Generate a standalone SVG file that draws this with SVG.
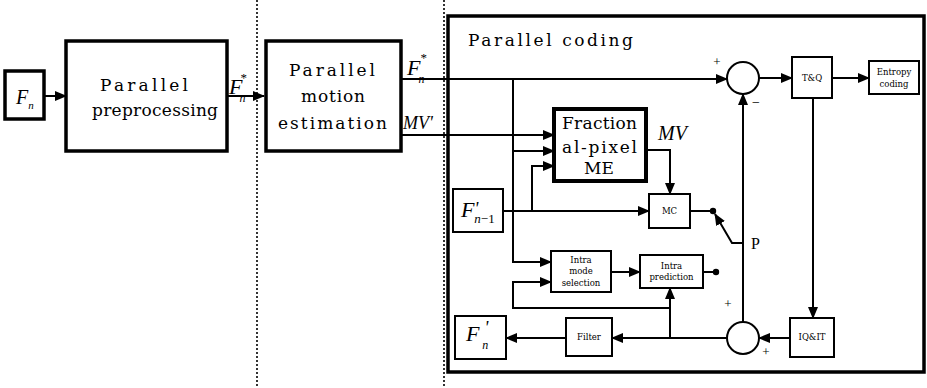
<svg xmlns="http://www.w3.org/2000/svg" width="927" height="388" viewBox="0 0 927 388">
<style>
.big{fill:#fff;stroke:#000;stroke-width:3.5}
.sm{fill:#fff;stroke:#000;stroke-width:2}
.ln{fill:none;stroke:#000;stroke-width:2}
.arr{fill:none;stroke:#000;stroke-width:2;marker-end:url(#ah)}
.dot{fill:none;stroke:#000;stroke-width:1.6;stroke-dasharray:2,2}
.sf{font-family:"DejaVu Serif","Liberation Serif",serif;fill:#000}
.b18{font-size:17px}
.s9{font-size:8.5px}
.it{font-family:"Liberation Serif","Times New Roman",serif;font-style:italic;fill:#000}
.rm{font-family:"Liberation Serif","Times New Roman",serif;fill:#000}
</style>
<defs>
<marker id="ah" markerUnits="userSpaceOnUse" markerWidth="12" markerHeight="10" refX="11" refY="5" orient="auto">
<path d="M0,0 L12,5 L0,10 Z" fill="#000"/>
</marker>
</defs>
<rect width="927" height="388" fill="#fff"/>

<g id="dividers">
<line class="dot" x1="257" y1="0" x2="257" y2="388"/>
<line class="dot" x1="444" y1="0" x2="444" y2="388"/>
</g>

<g id="parallel-coding">
<rect x="448" y="16" width="476" height="356" fill="none" stroke="#000" stroke-width="3.5"/>
<text class="sf b18" x="468" y="46" textLength="165" lengthAdjust="spacing">Parallel coding</text>
</g>

<g id="connectors">
<line class="arr" x1="44" y1="96" x2="66" y2="96"/>
<line class="arr" x1="227" y1="96" x2="264" y2="96"/>
<line class="arr" x1="401" y1="79" x2="727" y2="79"/>
<line class="arr" x1="401" y1="135" x2="554" y2="135"/>
<polyline class="arr" points="513,79 513,151 554,151"/>
<polyline class="arr" points="513,151 513,262 551,262"/>
<polyline class="arr" points="532,211 532,166 554,166"/>
<line class="arr" x1="503" y1="211" x2="649" y2="211"/>
<polyline class="arr" points="646,150 670,150 670,194"/>
<line class="ln" x1="690" y1="211" x2="713" y2="211"/>
<line class="arr" x1="759" y1="78" x2="792" y2="78"/>
<line class="arr" x1="832" y1="78" x2="869" y2="78"/>
<line class="arr" x1="813" y1="98" x2="813" y2="318"/>
<line class="arr" x1="790" y1="338" x2="759" y2="338"/>
<line class="arr" x1="743" y1="322" x2="743" y2="94"/>
<polyline class="arr" points="743,243 732,243 715,214"/>
<line class="arr" x1="727" y1="338" x2="612" y2="338"/>
<line class="arr" x1="566" y1="338" x2="506" y2="338"/>
<line class="arr" x1="670" y1="338" x2="670" y2="288"/>
<polyline class="arr" points="670,308 513,308 513,282 551,282"/>
<line class="arr" x1="611" y1="272" x2="640" y2="272"/>
<line class="ln" x1="703" y1="272" x2="716" y2="272"/>
<circle cx="713" cy="211" r="3.2" fill="#000"/>
<circle cx="716" cy="272" r="3.2" fill="#000"/>
</g>

<g id="fn">
<rect class="big" x="5" y="71" width="39" height="48"/>
<text class="it" x="16" y="104" font-size="20">F<tspan font-size="11" dy="5">n</tspan></text>
</g>

<g id="preprocessing">
<rect class="big" x="66" y="41" width="161" height="110"/>
<text class="sf b18" x="100" y="91" textLength="88" lengthAdjust="spacing">Parallel</text>
<text class="sf b18" x="92" y="116" textLength="126" lengthAdjust="spacing">preprocessing</text>
</g>

<g id="label-fn-star-1">
<text class="it" x="229" y="94" font-size="22">F<tspan font-size="12" dx="-3" dy="8">n</tspan><tspan font-style="normal" font-size="13" dx="-5" dy="-20">*</tspan></text>
</g>

<g id="motion-estimation">
<rect class="big" x="266" y="41" width="135" height="110"/>
<text class="sf b18" x="289" y="76" textLength="86" lengthAdjust="spacing">Parallel</text>
<text class="sf b18" x="301" y="102" textLength="64" lengthAdjust="spacing">motion</text>
<text class="sf b18" x="278" y="129" textLength="109" lengthAdjust="spacing">estimation</text>
</g>

<g id="label-fn-star-2">
<text class="it" x="407" y="75" font-size="22">F<tspan font-size="12" dx="-2" dy="8">n</tspan><tspan font-style="normal" font-size="13" dx="-4" dy="-21">*</tspan></text>
<text class="it" x="403" y="129" font-size="18">MV'</text>
</g>

<g id="fractional-me">
<rect x="554" y="109" width="92" height="72" fill="#fff" stroke="#000" stroke-width="4"/>
<text class="sf b18" x="562" y="129" textLength="75" lengthAdjust="spacing">Fraction</text>
<text class="sf b18" x="562" y="153" textLength="75" lengthAdjust="spacing">al-pixel</text>
<text class="sf b18" x="599" y="174" text-anchor="middle">ME</text>
<text class="it" x="658" y="140" font-size="20">MV</text>
</g>

<g id="fn-1">
<rect class="sm" x="453" y="189" width="50" height="43"/>
<text class="it" x="461" y="217" font-size="22">F<tspan font-size="18" dx="0" dy="-2">'</tspan><tspan font-size="13" dx="-4" dy="8">n</tspan><tspan font-size="13" font-style="normal">−1</tspan></text>
</g>

<g id="mc">
<rect class="sm" x="649" y="194" width="41" height="34"/>
<text class="sf s9" x="669.5" y="214" text-anchor="middle">MC</text>
</g>

<g id="sum-top">
<circle cx="743" cy="78" r="16" fill="#fff" stroke="#000" stroke-width="2"/>
<text class="rm" x="717" y="66" font-size="13" text-anchor="middle">+</text>
<text class="rm" x="756" y="107" font-size="14" text-anchor="middle">−</text>
</g>

<g id="tq">
<rect class="sm" x="792" y="57" width="40" height="41"/>
<text class="sf s9" x="812" y="81" text-anchor="middle">T&amp;Q</text>
</g>

<g id="entropy">
<rect class="sm" x="869" y="61" width="50" height="33"/>
<text class="sf s9" x="894" y="75" text-anchor="middle">Entropy</text>
<text class="sf s9" x="894" y="87" text-anchor="middle">coding</text>
</g>

<g id="p-label">
<text class="rm" x="751" y="249" font-size="16">P</text>
</g>

<g id="intra-mode">
<rect class="sm" x="551" y="251" width="60" height="41"/>
<text class="sf s9" x="581" y="263" text-anchor="middle">Intra</text>
<text class="sf s9" x="581" y="274" text-anchor="middle">mode</text>
<text class="sf s9" x="581" y="286" text-anchor="middle">selection</text>
</g>

<g id="intra-pred">
<rect class="sm" x="640" y="255" width="63" height="33"/>
<text class="sf s9" x="671.5" y="269" text-anchor="middle">Intra</text>
<text class="sf s9" x="671.5" y="280" text-anchor="middle">prediction</text>
</g>

<g id="filter">
<rect class="sm" x="566" y="318" width="46" height="38"/>
<text class="sf s9" x="589" y="340" text-anchor="middle">Filter</text>
</g>

<g id="fn-prime">
<rect class="sm" x="455" y="316" width="51" height="43"/>
<text class="it" x="466" y="341" font-size="22">F<tspan font-size="18" dx="5" dy="-7">'</tspan><tspan font-size="12" dx="-6" dy="15">n</tspan></text>
</g>

<g id="sum-bottom">
<circle cx="743" cy="338" r="16" fill="#fff" stroke="#000" stroke-width="2"/>
<text class="rm" x="728" y="308" font-size="13" text-anchor="middle">+</text>
<text class="rm" x="766" y="356" font-size="13" text-anchor="middle">+</text>
</g>

<g id="iqit">
<rect class="sm" x="790" y="318" width="44" height="39"/>
<text class="sf s9" x="812" y="340" text-anchor="middle">IQ&amp;IT</text>
</g>
</svg>
